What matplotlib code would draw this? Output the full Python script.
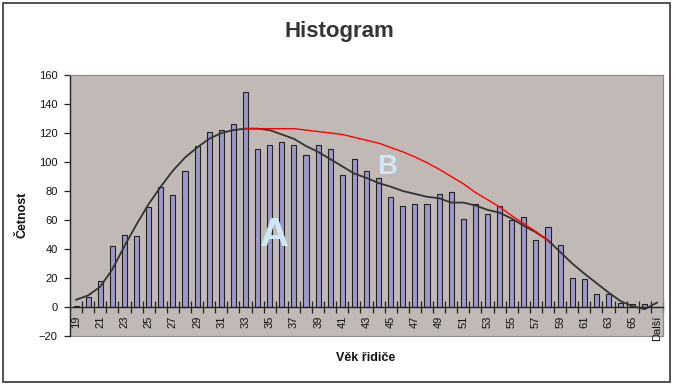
import matplotlib
matplotlib.use("Agg")
import matplotlib.pyplot as plt
from matplotlib.patches import Rectangle

plt.rcParams['font.family'] = ['Liberation Sans', 'DejaVu Sans']

# ---- data ----
categories = [str(a) for a in range(19, 67)] + ["Další"]
counts = [1, 7, 18, 42, 50, 49, 69, 83, 77, 94, 111, 121, 122, 126, 148,
          109, 112, 114, 112, 105, 112, 109, 91, 102, 94, 89, 76, 70, 71, 71,
          78, 79, 61, 71, 64, 70, 60, 62, 46, 55, 43, 20, 19, 9, 9, 3, 2, 2, 0]
trend = [5, 8, 14, 26, 42, 57, 71, 83, 94, 103, 110, 116, 120, 122, 123,
         123, 122, 119, 116, 111, 107, 102, 97, 92, 89, 85.5, 83, 80, 78, 76,
         75, 72, 72, 70, 67, 65, 61, 56, 51.5, 46, 38, 30, 23, 16.5, 10, 4,
         0.5, -1.5, 3]
red_start = "33"
red_values = [123, 123, 123, 123, 123, 122, 121, 120, 119, 117, 115, 113,
              110, 107, 103.5, 99.5, 95, 90, 85, 79, 74, 69, 63, 57.5, 52, 46]
yticks = [-20, 0, 20, 40, 60, 80, 100, 120, 140, 160]

W, H = 676, 390
fig = plt.figure(figsize=(W / 100, H / 100), dpi=100)
fig.patch.set_facecolor('white')
fig.patches.append(Rectangle((3 / W, 8 / H), 667 / W, 379 / H, transform=fig.transFigure,
                             fill=False, edgecolor='#333333', linewidth=1.2))

ax = fig.add_axes([70 / W, (H - 336) / H, 593 / W, 261 / H])
ax.set_facecolor('#c0b9b5')

x = list(range(len(categories)))
ax.bar(x, counts, width=0.42, color='#9d98cb', edgecolor='#222222', linewidth=0.8, zorder=2)
ax.plot(x, trend, color='#333333', linewidth=1.3, zorder=3)
i0 = categories.index(red_start)
ax.plot(x[i0:i0 + len(red_values)], red_values, color='#ff0000', linewidth=1.0, zorder=4)

ax.set_xlim(-0.5, len(categories) - 0.5)
ax.set_ylim(-20, 160)
ax.set_yticks(yticks)
ax.tick_params(axis='y', direction='out', length=4, width=0.9, color='#222222',
               labelsize=8, pad=5, labelcolor='#111111')

lab_idx = list(range(0, len(categories), 2))
ax.set_xticks(lab_idx)
ax.set_xticklabels([categories[i] for i in lab_idx])
ax.set_xticks([k - 0.5 for k in range(1, len(categories) + 1)], minor=True)
ax.tick_params(axis='x', which='major', length=0, pad=6, labelrotation=90,
               labelsize=8, labelcolor='#111111')
ax.tick_params(axis='x', which='minor', direction='inout', length=8, width=0.9, color='#222222')

ax.spines['bottom'].set_position(('data', 0))
ax.spines['bottom'].set_color('#222222')
ax.spines['bottom'].set_linewidth(1.0)
ax.spines['left'].set_color('#222222')
ax.spines['left'].set_linewidth(1.0)
for s in ['top', 'right']:
    ax.spines[s].set_color('#8a8a8a')
    ax.spines[s].set_linewidth(0.8)
ax.add_patch(Rectangle((0, 0), 1, 1, transform=ax.transAxes, fill=False,
                       edgecolor='#8a8a8a', linewidth=0.8, zorder=0.5, clip_on=False))

ax.text(16.4, 50, "A", color='#cfe8f5', fontsize=29, fontweight='bold',
        ha='center', va='center', zorder=5)
ax.text(25.7, 96.5, "B", color='#cfe8f5', fontsize=20, fontweight='bold',
        ha='center', va='center', zorder=5)

fig.text(339 / W, 1 - 31 / H, "Histogram", fontsize=16, fontweight='bold',
         ha='center', va='center', color='#333333')
fig.text(22 / W, 1 - 215 / H, "Četnost", fontsize=9, fontweight='bold',
         rotation=90, ha='center', va='center', color='#111111')
fig.text(366 / W, 1 - 358 / H, "Věk řidiče", fontsize=9, fontweight='bold',
         ha='center', va='center', color='#111111')

fig.savefig("out.png", dpi=100)
